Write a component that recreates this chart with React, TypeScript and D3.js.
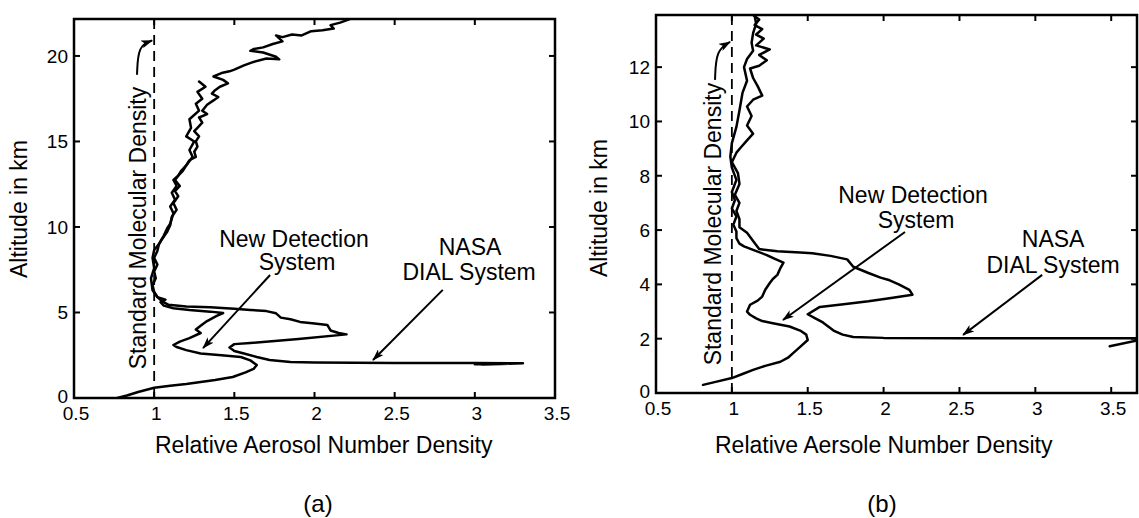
import React from 'react';
import * as d3 from 'd3';

type P = [number, number];

// ---------- data (x = relative density, y = altitude km) ----------
const xTickValues = [0.5, 1, 1.5, 2, 2.5, 3, 3.5];
const yTicksA = [0, 5, 10, 15, 20];
const yTicksB = [0, 2, 4, 6, 8, 10, 12];
const molecularDensity = 1;

const newDetA: P[] = [
  [0.77, 0], [0.83, 0.15], [0.9, 0.35], [1.0, 0.6], [1.1, 0.72], [1.2, 0.82], [1.29, 0.94], [1.38, 1.05],
  [1.49, 1.23], [1.57, 1.5], [1.62, 1.7], [1.64, 1.93], [1.6, 2.2], [1.54, 2.4], [1.42, 2.5], [1.29, 2.6],
  [1.2, 2.8], [1.14, 2.98], [1.12, 3.1], [1.16, 3.3], [1.22, 3.5], [1.29, 3.8], [1.26, 4.0], [1.3, 4.3],
  [1.33, 4.5], [1.39, 4.8], [1.43, 4.97], [1.35, 5.05], [1.22, 5.15], [1.12, 5.25], [1.06, 5.4], [1.04, 5.6],
  [1.07, 5.75], [1.02, 5.9], [0.99, 6.3], [0.98, 7.0], [1.0, 7.6], [0.99, 8.2], [1.0, 8.65], [1.03, 9.0],
  [1.06, 9.5], [1.08, 9.9], [1.1, 10.2], [1.12, 10.8], [1.1, 11.2], [1.13, 11.6], [1.11, 12.0], [1.14, 12.4],
  [1.12, 12.75], [1.15, 13.0], [1.18, 13.3], [1.2, 13.6], [1.24, 14.1], [1.22, 14.5], [1.25, 15.0], [1.2, 15.3],
  [1.23, 15.8], [1.22, 16.3], [1.28, 16.8], [1.26, 17.2], [1.3, 17.5], [1.27, 17.9], [1.32, 18.2], [1.28, 18.5],
];

const nasaA: P[] = [
  [2.22, 22.15], [2.16, 21.95], [2.1, 21.8], [2.12, 21.6], [2.05, 21.5], [1.98, 21.45], [1.92, 21.2], [1.86, 21.25],
  [1.8, 21.1], [1.76, 21.2], [1.8, 20.85], [1.74, 20.7], [1.68, 20.5], [1.62, 20.4], [1.6, 20.3], [1.68, 20.2],
  [1.76, 19.95], [1.78, 19.8], [1.7, 19.85], [1.62, 19.65], [1.56, 19.45], [1.5, 19.2], [1.47, 19.1], [1.42, 19.0],
  [1.37, 18.8], [1.43, 18.6], [1.46, 18.4], [1.41, 18.2], [1.38, 18.0], [1.36, 17.8], [1.4, 17.6], [1.37, 17.4],
  [1.33, 17.15], [1.3, 16.8], [1.33, 16.6], [1.28, 16.4], [1.3, 16.1], [1.27, 15.8], [1.25, 15.6], [1.28, 15.3],
  [1.26, 15.0], [1.27, 14.7], [1.25, 14.4], [1.26, 14.1], [1.22, 13.9], [1.2, 13.6], [1.17, 13.3], [1.15, 13.0],
  [1.13, 12.75], [1.16, 12.4], [1.13, 12.1], [1.15, 11.8], [1.12, 11.4], [1.14, 11.0], [1.11, 10.6], [1.1, 10.1],
  [1.08, 9.7], [1.05, 9.3], [1.03, 9.0], [1.02, 8.6], [1.0, 8.2], [1.02, 7.8], [1.0, 7.4], [1.01, 7.0],
  [0.99, 6.6], [1.0, 6.2], [1.02, 5.9], [1.05, 5.65], [1.09, 5.45], [1.2, 5.35], [1.35, 5.3], [1.5, 5.22],
  [1.6, 5.15], [1.7, 5.08], [1.76, 4.95], [1.79, 4.7], [1.85, 4.6], [1.91, 4.45], [2.0, 4.35], [2.08, 4.27],
  [2.1, 3.95], [2.15, 3.8], [2.2, 3.72], [1.9, 3.45], [1.6, 3.22], [1.5, 3.15], [1.47, 2.95], [1.5, 2.75],
  [1.56, 2.6], [1.64, 2.4], [1.72, 2.22], [1.85, 2.1], [2.0, 2.07], [2.5, 2.05], [3.0, 2.04], [3.3, 2.03],
  [3.05, 1.96], [3.0, 2.0], [3.3, 2.03], [3.1, 1.99], [3.0, 1.97],
];

const newDetB: P[] = [
  [0.81, 0.3], [0.9, 0.42], [1.0, 0.55], [1.07, 0.7], [1.14, 0.85], [1.22, 1.0], [1.32, 1.15], [1.37, 1.3],
  [1.4, 1.45], [1.45, 1.7], [1.5, 1.95], [1.49, 2.15], [1.45, 2.3], [1.38, 2.45], [1.27, 2.57], [1.2, 2.65],
  [1.16, 2.75], [1.12, 2.88], [1.1, 3.0], [1.12, 3.25], [1.17, 3.4], [1.2, 3.55], [1.22, 3.8], [1.25, 4.05],
  [1.27, 4.2], [1.3, 4.35], [1.32, 4.6], [1.34, 4.8], [1.28, 4.95], [1.23, 5.08], [1.14, 5.27], [1.08, 5.4],
  [1.05, 5.5], [1.03, 5.7], [1.03, 5.95], [1.01, 6.2], [1.03, 6.5], [1.0, 6.8], [1.02, 7.1], [1.0, 7.4],
  [1.03, 7.85], [1.0, 8.3], [0.99, 8.7], [1.0, 9.2], [1.03, 9.8], [1.05, 10.4], [1.07, 11.05], [1.1, 11.5],
  [1.08, 12.0], [1.1, 12.3], [1.14, 12.6], [1.13, 12.9], [1.14, 13.25], [1.16, 13.6], [1.15, 13.9],
];

const nasaB: P[] = [
  [1.14, 13.92], [1.18, 13.75], [1.15, 13.55], [1.2, 13.4], [1.16, 13.2], [1.21, 13.05], [1.16, 12.8], [1.25, 12.65],
  [1.18, 12.45], [1.23, 12.25], [1.18, 12.05], [1.12, 11.95], [1.14, 11.6], [1.17, 11.3], [1.2, 10.95], [1.14, 10.8],
  [1.1, 10.55], [1.13, 10.2], [1.1, 9.85], [1.14, 9.55], [1.1, 9.3], [1.06, 9.05], [1.03, 8.85], [1.0, 8.5],
  [1.04, 8.1], [1.05, 7.7], [1.02, 7.3], [1.05, 7.0], [1.03, 6.7], [1.05, 6.4], [1.05, 6.1], [1.1, 5.9],
  [1.14, 5.6], [1.18, 5.3], [1.3, 5.22], [1.45, 5.17], [1.53, 5.15], [1.65, 5.05], [1.76, 4.92], [1.8, 4.65],
  [1.9, 4.42], [1.98, 4.25], [2.04, 4.15], [2.1, 4.0], [2.17, 3.8], [2.19, 3.62], [2.05, 3.5], [1.9, 3.38],
  [1.75, 3.28], [1.58, 3.17], [1.5, 2.9], [1.55, 2.75], [1.6, 2.6], [1.67, 2.3], [1.73, 2.15], [1.8, 2.06],
  [2.0, 2.03], [2.5, 2.02], [3.0, 2.02], [3.5, 2.02], [3.72, 2.02], [3.72, 1.99], [3.49, 1.72],
];

// annotations in data units
const labelsA = [
  { text: 'New Detection', x: 1.872, y: 8.83 },
  { text: 'System', x: 1.891, y: 7.49 },
  { text: 'NASA', x: 2.97, y: 8.36 },
  { text: 'DIAL System', x: 2.964, y: 6.9 },
];
const arrowsA = [
  { from: [1.723, 7.19] as P, to: [1.305, 2.92] as P },
  { from: [2.8, 6.32] as P, to: [2.365, 2.22] as P },
];
const smdA = { x: 0.949, y: 9.94, curve: [[0.893, 18.9], [0.9, 20.6], [0.987, 20.9]] as P[] };

const labelsB = [
  { text: 'New Detection', x: 2.194, y: 7.0 },
  { text: 'System', x: 2.214, y: 6.08 },
  { text: 'NASA', x: 3.117, y: 5.38 },
  { text: 'DIAL System', x: 3.117, y: 4.42 },
];
const arrowsB = [
  { from: [2.141, 5.93] as P, to: [1.337, 2.69] as P },
  { from: [3.045, 4.35] as P, to: [2.524, 2.14] as P },
];
const smdB = { x: 0.928, y: 6.22, curve: [[0.889, 11.53], [0.896, 12.63], [0.988, 12.93]] as P[] };

const FONT = '"Liberation Sans", Arial, Helvetica, sans-serif';

type PanelCfg = {
  id: string;
  left: number; right: number; top: number; bottom: number;
  xDomain: [number, number]; yDomain: [number, number];
  yTicks: number[];
  series: P[][];
  labels: { text: string; x: number; y: number }[];
  arrows: { from: P; to: P }[];
  smd: { x: number; y: number; curve: P[] };
  xLabel: string; xLabelX: number; xLabelY: number;
  yLabelX: number; yLabelY: number;
  tag: string; tagX: number;
};

const panels: PanelCfg[] = [
  {
    id: 'a', left: 74, right: 555, top: 19, bottom: 398,
    xDomain: [0.5, 3.5], yDomain: [0, 22.16], yTicks: yTicksA,
    series: [newDetA, nasaA], labels: labelsA, arrows: arrowsA, smd: smdA,
    xLabel: 'Relative Aerosol Number Density', xLabelX: 155, xLabelY: 453,
    yLabelX: 27, yLabelY: 209, tag: '(a)', tagX: 318,
  },
  {
    id: 'b', left: 656, right: 1137, top: 15, bottom: 393,
    xDomain: [0.5, 3.67], yDomain: [0, 13.92], yTicks: yTicksB,
    series: [newDetB, nasaB], labels: labelsB, arrows: arrowsB, smd: smdB,
    xLabel: 'Relative Aersole Number Density', xLabelX: 715, xLabelY: 453,
    yLabelX: 607, yLabelY: 208, tag: '(b)', tagX: 882,
  },
];

function Panel({ cfg }: { cfg: PanelCfg }) {
  const x = d3.scaleLinear().domain(cfg.xDomain).range([cfg.left, cfg.right]);
  const y = d3.scaleLinear().domain(cfg.yDomain).range([cfg.bottom, cfg.top]);
  const line = d3.line<P>().x(d => x(d[0])).y(d => y(d[1]));
  const curveLine = d3.line<P>().x(d => x(d[0])).y(d => y(d[1])).curve(d3.curveBasis);
  const tl = 6;
  const sw = 2.5;
  return (
    <g>
      <defs>
        <clipPath id={`clip-${cfg.id}`}>
          <rect x={cfg.left} y={cfg.top} width={cfg.right - cfg.left} height={cfg.bottom - cfg.top} />
        </clipPath>
      </defs>
      {/* dashed molecular line */}
      <line x1={x(molecularDensity)} x2={x(molecularDensity)} y1={cfg.top} y2={cfg.bottom}
        stroke="#000" strokeWidth={1.8} strokeDasharray="10,6" />
      {/* series */}
      <g clipPath={`url(#clip-${cfg.id})`}>
        {cfg.series.map((s, i) => (
          <path key={i} d={line(s) || ''} fill="none" stroke="#000" strokeWidth={2.5} strokeLinejoin="round" strokeLinecap="round" />
        ))}
      </g>
      {/* frame */}
      <rect x={cfg.left} y={cfg.top} width={cfg.right - cfg.left} height={cfg.bottom - cfg.top}
        fill="none" stroke="#000" strokeWidth={sw} />
      {/* x ticks */}
      {xTickValues.map(v => (
        <g key={`xt${v}`}>
          <line x1={x(v)} x2={x(v)} y1={cfg.bottom} y2={cfg.bottom - tl} stroke="#000" strokeWidth={2} />
          <line x1={x(v)} x2={x(v)} y1={cfg.top} y2={cfg.top + tl} stroke="#000" strokeWidth={2} />
          <text x={x(v) + 2} y={cfg.bottom + 22} textAnchor="middle" fontSize={19} fontFamily={FONT}>{String(v)}</text>
        </g>
      ))}
      {/* y ticks */}
      {cfg.yTicks.map(v => (
        <g key={`yt${v}`}>
          <line x1={cfg.left} x2={cfg.left + tl} y1={y(v)} y2={y(v)} stroke="#000" strokeWidth={2} />
          <line x1={cfg.right} x2={cfg.right - tl} y1={y(v)} y2={y(v)} stroke="#000" strokeWidth={2} />
          <text x={cfg.left - 6} y={y(v)} dy={v === 0 ? '0.25em' : '0.36em'} textAnchor="end" fontSize={19} fontFamily={FONT}>{String(v)}</text>
        </g>
      ))}
      {/* standard molecular density label */}
      <text transform={`translate(${x(cfg.smd.x)},${y(cfg.smd.y)}) rotate(-90)`} textAnchor="middle"
        fontSize={23} fontFamily={FONT}>Standard Molecular Density</text>
      <path d={curveLine(cfg.smd.curve) || ''} fill="none" stroke="#000" strokeWidth={2} markerEnd="url(#arrowHead)" />
      {/* annotations */}
      {cfg.labels.map((l, i) => (
        <text key={`l${i}`} x={x(l.x)} y={y(l.y)} textAnchor="middle" fontSize={23} fontFamily={FONT}>{l.text}</text>
      ))}
      {cfg.arrows.map((a, i) => (
        <line key={`a${i}`} x1={x(a.from[0])} y1={y(a.from[1])} x2={x(a.to[0])} y2={y(a.to[1])}
          stroke="#000" strokeWidth={2} markerEnd="url(#arrowHead)" />
      ))}
      {/* axis labels */}
      <text x={cfg.xLabelX} y={cfg.xLabelY} fontSize={23} fontFamily={FONT}>{cfg.xLabel}</text>
      <text transform={`translate(${cfg.yLabelX},${cfg.yLabelY}) rotate(-90)`} textAnchor="middle"
        fontSize={23} fontFamily={FONT}>Altitude in km</text>
      <text x={cfg.tagX} y={512} textAnchor="middle" fontSize={24} fontFamily={FONT}>{cfg.tag}</text>
    </g>
  );
}

export default function App() {
  return (
    <svg width={1139} height={518} style={{ position: 'absolute', left: 0, top: 0, background: '#fff' }}>
      <defs>
        <marker id="arrowHead" viewBox="0 0 12 8" refX={11} refY={4} markerWidth={12} markerHeight={8}
          markerUnits="userSpaceOnUse" orient="auto">
          <path d="M0,0 L12,4 L0,8 L3,4 z" fill="#000" />
        </marker>
      </defs>
      <rect x={0} y={0} width={1139} height={518} fill="#fff" />
      {panels.map(p => <Panel key={p.id} cfg={p} />)}
    </svg>
  );
}
